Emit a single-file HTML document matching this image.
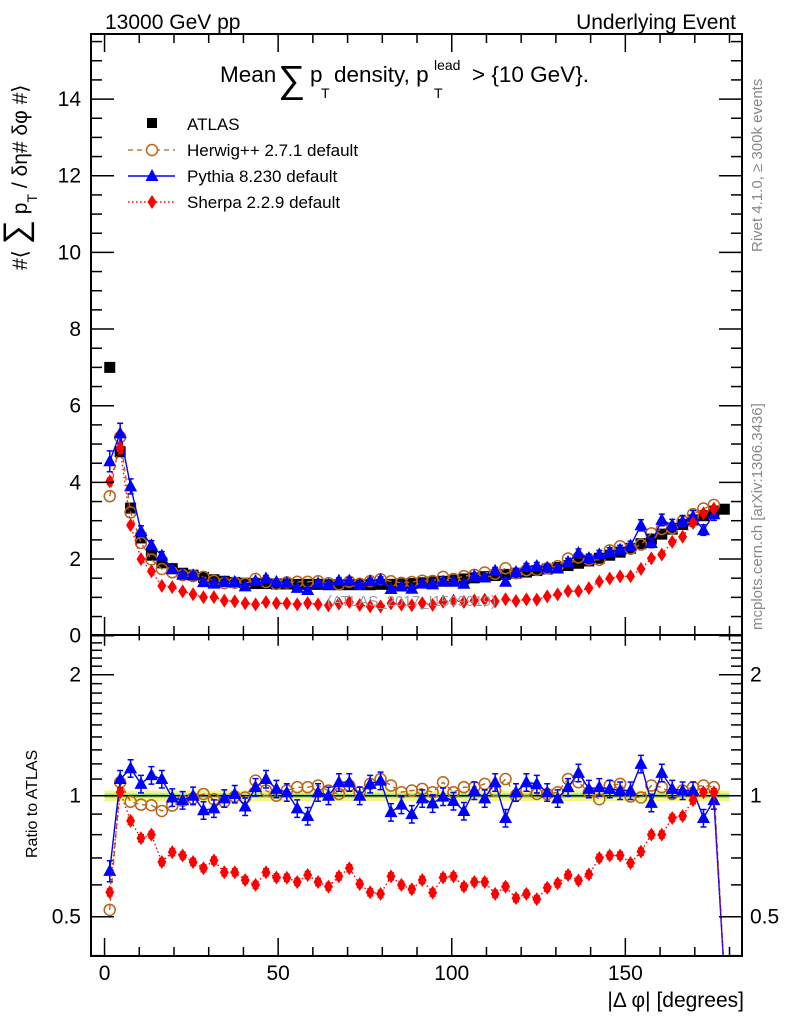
<!DOCTYPE html>
<html><head><meta charset="utf-8"><style>
html,body{margin:0;padding:0;background:#fff;overflow:hidden;}
svg{display:block;font-family:"Liberation Sans",sans-serif;}
</style></head><body>
<svg id="chart" width="786" height="1024" viewBox="0 0 786 1024" xmlns="http://www.w3.org/2000/svg">
<defs>
<clipPath id="clipTop"><rect x="91" y="34" width="651" height="601"/></clipPath>
<clipPath id="clipBot"><rect x="91" y="635" width="651" height="321"/></clipPath>
</defs>
<g id="marks"></g>
<g id="axes"></g>
<text x="105" y="29" font-size="21">13000 GeV pp</text>
<text x="736" y="29" font-size="21" text-anchor="end">Underlying Event</text>
<g font-size="22.5">
 <text x="220" y="82">Mean</text>
 <text x="278" y="92" font-size="38">∑</text>
 <text x="310" y="82">p</text>
 <text x="321" y="98" font-size="14">T</text>
 <text x="334" y="82">density, p</text>
 <text x="434" y="70" font-size="14">lead</text>
 <text x="434" y="98" font-size="14">T</text>
 <text x="472" y="82">&gt; {10 GeV}.</text>
</g>
<text transform="translate(27,270) rotate(-90)" font-size="21">#⟨ <tspan font-size="34">∑</tspan> p<tspan font-size="14" dy="10">T</tspan><tspan dy="-10"> / δη# δφ #⟩</tspan></text>
<text transform="translate(37,858) rotate(-90)" font-size="16">Ratio to ATLAS</text>
<text x="744" y="1007" font-size="21" text-anchor="end">|Δ φ| [degrees]</text>
<text transform="translate(762,252) rotate(-90)" font-size="15" fill="#888">Rivet 4.1.0, ≥ 300k events</text>
<text transform="translate(762,630) rotate(-90)" font-size="15" fill="#888">mcplots.cern.ch [arXiv:1306.3436]</text>
<text x="327" y="606" font-size="15" fill="#999">(ATLAS_2017_I1509919)</text>
<g font-size="17">
 <rect x="147" y="118" width="10" height="10" fill="#000"/>
 <text x="187" y="130">ATLAS</text>
 <line x1="128" y1="150" x2="175" y2="150" stroke="#b8651b" stroke-width="1.3" stroke-dasharray="5,4"/>
 <circle cx="152" cy="150" r="5.5" fill="#fff" stroke="#b8651b" stroke-width="1.5"/>
 <text x="187" y="156">Herwig++ 2.7.1 default</text>
 <line x1="128" y1="176" x2="175" y2="176" stroke="#0000ff" stroke-width="1.5"/>
 <path d="M152,169 L158.5,181 L145.5,181 Z" fill="#0000ff"/>
 <text x="187" y="182">Pythia 8.230 default</text>
 <line x1="128" y1="202" x2="175" y2="202" stroke="#ff0000" stroke-width="1.5" stroke-dasharray="1.5,2.5"/>
 <path d="M152,195 L156.5,202 L152,209 L147.5,202 Z" fill="#ff0000"/>
 <text x="187" y="208">Sherpa 2.2.9 default</text>
</g>
</svg>
<script>
const binCenters = [];
for (let i = 0; i < 60; i++) binCenters.push(1.5 + 3 * i);
const atlasValues = [7.0,4.8,3.33,2.55,2.1,1.9,1.75,1.63,1.58,1.52,1.46,1.42,1.39,1.37,1.36,1.36,1.35,1.35,1.34,1.34,1.34,1.33,1.33,1.33,1.33,1.33,1.34,1.34,1.35,1.36,
1.38,1.40,1.42,1.45,1.48,1.51,1.54,1.57,1.60,1.63,1.66,1.70,1.74,1.78,1.83,1.89,1.95,2.02,2.10,2.18,2.28,2.40,2.52,2.65,2.78,2.90,3.02,3.13,3.25,3.30];
const herwigRatio = [0.52,1.08,0.966,0.95,0.947,0.916,0.945,0.97,0.985,1.01,0.98,0.966,0.995,0.99,1.09,1.03,1.0,1.03,1.05,1.05,1.06,1.03,1.01,1.06,1.02,1.07,1.10,1.06,1.02,1.03,
1.04,1.02,1.08,1.02,1.05,1.05,1.07,1.03,1.10,1.0,1.03,1.01,1.01,1.02,1.10,1.08,1.02,0.98,1.06,1.07,0.995,0.99,1.06,1.05,1.01,1.03,1.05,1.06,1.05,0];
const pythiaRatio = [0.65,1.10,1.17,1.07,1.125,1.10,0.99,0.975,1.0,0.92,0.93,0.985,1.01,0.94,1.05,1.10,1.04,1.02,0.93,0.89,1.02,1.0,1.08,1.08,1.0,1.07,1.09,0.91,0.95,0.90,
0.985,0.957,0.995,0.97,0.916,1.03,0.985,1.08,0.88,1.02,1.08,1.07,1.02,0.985,1.05,1.14,1.04,1.05,1.04,1.03,1.03,1.20,0.96,1.14,1.04,1.03,1.03,0.88,0.975,0];
const pythiaRelErr = [0.06,0.05,0.05,0.05,0.05,0.05,0.05,0.05,0.05,0.05,0.05,0.05,0.05,0.05,0.05,0.05,0.05,0.05,0.05,0.05,0.05,0.05,0.05,0.05,0.05,0.05,0.05,0.05,0.05,0.05,
0.05,0.05,0.05,0.05,0.05,0.05,0.05,0.05,0.05,0.05,0.05,0.05,0.05,0.05,0.05,0.05,0.05,0.05,0.05,0.05,0.05,0.05,0.05,0.05,0.05,0.05,0.05,0.05,0.05,0];
const sherpaRatio = [0.575,1.02,0.866,0.784,0.80,0.684,0.724,0.71,0.684,0.66,0.69,0.645,0.645,0.617,0.60,0.645,0.626,0.625,0.61,0.635,0.61,0.594,0.63,0.66,0.603,0.575,0.57,0.63,0.60,0.585,
0.617,0.574,0.626,0.63,0.594,0.61,0.61,0.57,0.594,0.556,0.57,0.553,0.59,0.605,0.635,0.615,0.637,0.70,0.71,0.71,0.68,0.726,0.80,0.80,0.88,0.89,0.975,1.02,1.02,0];
const xTickLabels = [0,50,100,150];
const yTickLabels = [0,2,4,6,8,10,12,14];
const ratioTickLabels = [0.5,1,2];

const NS = "http://www.w3.org/2000/svg";
const X0 = 91, X1 = 742, xMin = -3.9, xMax = 183.6;
const TY0 = 635.7, TPX = 38.33;
const RY1 = 795.7, RPX = 121;
const BELOW = 975;
function xs(v){ return X0 + (v - xMin) / (xMax - xMin) * (X1 - X0); }
function ysTop(v){ return TY0 - v * TPX; }
function ysRat(r){ return r > 0 ? RY1 - RPX * Math.log2(r) : BELOW; }
function mk(tag, attrs, parent){ const e = document.createElementNS(NS, tag); for (const k in attrs) e.setAttribute(k, attrs[k]); parent.appendChild(e); return e; }

const marks = document.getElementById('marks');
const axes = document.getElementById('axes');
const gTop = mk('g', {'clip-path':'url(#clipTop)'}, marks);


const gBot = mk('g', {'clip-path':'url(#clipBot)'}, marks);



const band = mk('rect', {x: xs(0), y: ysRat(1.03), width: xs(180)-xs(0), height: ysRat(0.97)-ysRat(1.03), fill:'#f2f58a'}, gBot);


const band2 = mk('rect', {x: xs(0), y: ysRat(1.012), width: xs(180)-xs(0), height: ysRat(0.988)-ysRat(1.012), fill:'#9be07a'}, gBot);


const oneLine = mk('line', {x1: X0, x2: X1, y1: ysRat(1), y2: ysRat(1), stroke:'#000', 'stroke-width':1.5}, gBot);



function mcTop(ratio){ return ratio.map((r,i)=> r > 0 ? r * atlasValues[i] : null); }

function drawSeries(g, vals, yfn, color, dash, marker, name, errs, allowDrop){
  let d = '';
  vals.forEach((v,i)=>{
    if (v === null && !allowDrop) return;
    const yy = v === null ? BELOW : yfn(v);
    d += (d ? 'L' : 'M') + xs(binCenters[i]).toFixed(1) + ',' + yy.toFixed(1);
  });
  const p = mk('path', {d: d, fill:'none', stroke: color, 'stroke-width': 1.4, 'stroke-dasharray': dash}, g);
  
  
  vals.forEach((v,i)=>{
    if (v === null || v <= 0) return;
    const cx = xs(binCenters[i]), cy = yfn(v);
    if (errs && errs[i] > 0){
      const y1 = yfn(v*(1+errs[i])), y2 = yfn(v*(1-errs[i]));
      const eb = mk('path', {d:`M${cx},${y1}L${cx},${y2}M${cx-3},${y1}L${cx+3},${y1}M${cx-3},${y2}L${cx+3},${y2}`, stroke: color, 'stroke-width':1.5, fill:'none'}, g);
      
      
    }
    let m;
    if (marker === 'circle') m = mk('circle', {cx:cx, cy:cy, r:5.5, fill:'none', stroke:color, 'stroke-width':1.5}, g);
    else if (marker === 'tri') m = mk('path', {d:`M${cx},${cy-7}L${cx+6.5},${cy+5}L${cx-6.5},${cy+5}Z`, fill:color}, g);
    else m = mk('path', {d:`M${cx},${cy-7}L${cx+4.5},${cy}L${cx},${cy+7}L${cx-4.5},${cy}Z`, fill:color}, g);
    
    
  });
}

atlasValues.forEach((v,i)=>{
  const cx = xs(binCenters[i]), cy = ysTop(v);
  const r = mk('rect', {x:cx-5.5, y:cy-5.5, width:11, height:11, fill:'#000'}, gTop);
  
  
});
drawSeries(gTop, mcTop(herwigRatio), ysTop, '#b8651b', '5,4', 'circle', 'herwig', null, false);
drawSeries(gTop, mcTop(pythiaRatio), ysTop, '#0000ff', '', 'tri', 'pythia', pythiaRelErr, false);
drawSeries(gTop, mcTop(sherpaRatio), ysTop, '#ff0000', '1.5,2.5', 'diamond', 'sherpa', sherpaRatio.map(()=>0.02), false);

drawSeries(gBot, herwigRatio.map(r=>r>0?r:null), ysRat, '#b8651b', '5,4', 'circle', 'herwig-ratio', null, true);
drawSeries(gBot, pythiaRatio.map(r=>r>0?r:null), ysRat, '#0000ff', '', 'tri', 'pythia-ratio', pythiaRelErr, true);
drawSeries(gBot, sherpaRatio.map(r=>r>0?r:null), ysRat, '#ff0000', '1.5,2.5', 'diamond', 'sherpa-ratio', sherpaRatio.map(()=>0.02), true);

function frame(y0, y1, name){
  const f = mk('rect', {x:X0, y:y0, width:X1-X0, height:y1-y0, fill:'none', stroke:'#000', 'stroke-width':2}, axes);
  
  
}
frame(34, 635, 'main-panel-frame');
frame(635, 956, 'ratio-panel-frame');

function line(x1,y1,x2,y2,w){ mk('line', {x1:x1,y1:y1,x2:x2,y2:y2,stroke:'#000','stroke-width':w||1.5}, axes); }
for (let v = 0; v <= 180; v += 10){
  const x = xs(v), major = v % 50 === 0, L = major ? 18 : 9;
  line(x, 635, x, 635-L); line(x, 34, x, 34+L);
  line(x, 956, x, 956-L); line(x, 635, x, 635+L*0.6);
}
xTickLabels.forEach(v=>{
  const t = mk('text', {x: xs(v), y: 980, 'font-size': 21, 'text-anchor':'middle'}, axes);
  t.textContent = v;
  
  
});
for (let v = 0; v <= 15.5; v += 0.5){
  const y = ysTop(v), major = Math.abs(v % 2) < 1e-6, L = major ? 23 : 11;
  line(X0, y, X0+L, y); line(X1, y, X1-L, y);
}
yTickLabels.forEach(v=>{
  const t = mk('text', {x: 81, y: ysTop(v)+7, 'font-size': 21, 'text-anchor':'end'}, axes);
  t.textContent = v;
  
  
});
[0.4,0.5,0.6,0.7,0.8,0.9,1,1.1,1.2,1.3,1.4,1.5,1.6,1.7,1.8,1.9,2,2.1,2.2,2.3,2.4,2.5].forEach(r=>{
  const y = ysRat(r), major = (r===0.5||r===1||r===2), L = major ? 23 : 11;
  if (y < 635 || y > 956) return;
  line(X0, y, X0+L, y); line(X1, y, X1-L, y);
});
ratioTickLabels.forEach(v=>{
  const t = mk('text', {x: 81, y: ysRat(v)+7, 'font-size': 21, 'text-anchor':'end'}, axes);
  t.textContent = v;
  
  
  const t2 = mk('text', {x: 750, y: ysRat(v)+7, 'font-size': 21, 'text-anchor':'start'}, axes);
  t2.textContent = v;
  
  
});
</script>
</body></html>
